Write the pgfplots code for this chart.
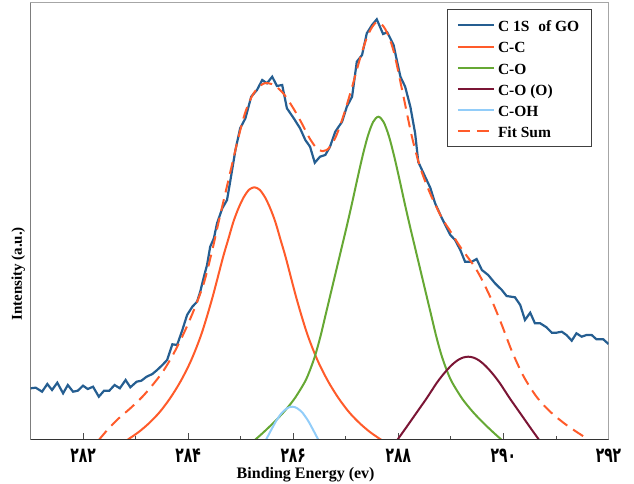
\documentclass[border=0pt]{standalone}
\usepackage{fontspec}
\setmainfont{Liberation Serif}
\newfontfamily\fafont[Script=Arabic, FakeStretch=0.66]{DejaVu Sans}
\usepackage{pgfplots}
\pgfplotsset{compat=1.18}
\definecolor{cdata}{HTML}{255E91}
\definecolor{ccc}{HTML}{FF5B2A}
\definecolor{cco}{HTML}{66A834}
\definecolor{ccoo}{HTML}{7B1535}
\definecolor{coh}{HTML}{92CDF9}
\definecolor{cfit}{HTML}{FF5B2A}
\begin{document}
\begin{tikzpicture}
\path[use as bounding box] (-30.5pt,-44pt) rectangle (603.5pt,440pt);
\begin{axis}[
 scale only axis, width=578pt, height=437pt,
 xmin=281, xmax=292, ymin=0, ymax=437,
 axis line style={draw=gray!70, line width=1pt},
 xtick={282,284,286,288,290,292},
 xticklabels={۲۸۲,۲۸۴,۲۸۶,۲۸۸,۲۹۰,۲۹۲},
 minor xtick={283,285,287,289,291},
 ytick=\empty,
 xtick pos=left, tick align=inside,
 major tick length=7pt, minor tick length=4pt,
 tick style={draw=black!70, line width=0.8pt},
 xticklabel style={font=\fafont\bfseries\fontsize{21}{21}\selectfont, inner sep=1pt, anchor=north, yshift=-8pt},
 xlabel={Binding Energy (ev)},
 xlabel style={at={(axis description cs:0.476,-0.080)}, anchor=center, font=\bfseries\fontsize{16}{18}\selectfont},
 ylabel={Intensity (a.u.)},
 ylabel style={at={(axis description cs:-0.021,0.38)}, anchor=center, font=\bfseries\fontsize{15}{18}\selectfont},
 legend cell align=left,
 legend style={at={(axis description cs:0.7211,0.9856)}, anchor=north west, draw=black!75, line width=1pt, font=\bfseries\fontsize{15.5}{18}\selectfont, row sep=0pt, inner xsep=9pt, inner ysep=5pt, nodes={inner sep=3pt, text height=14pt, text depth=1.2pt}, /tikz/every even column/.append style={column sep=5pt}},
 legend image code/.code={\draw[#1] (0pt,0pt) -- (36pt,0pt);},
]
\addplot[cdata, line width=2.2pt] table {
281.00 51.7
281.10 52.3
281.22 48.3
281.32 56
281.41 50
281.51 57.3
281.62 46.7
281.71 55
281.81 48.3
281.90 49.3
282.00 54.3
282.09 51
282.19 53.3
282.30 43.3
282.40 49.3
282.50 49.3
282.60 55
282.70 51.7
282.81 60
282.90 52.7
283.02 58.3
283.11 59.3
283.21 63.3
283.32 66
283.41 70
283.51 75
283.60 80
283.70 95.7
283.79 95
283.89 110
283.98 125
284.08 133.3
284.17 138.3
284.23 148.3
284.30 163.3
284.36 175
284.42 193.3
284.49 201.7
284.55 216.7
284.65 231.7
284.74 240
284.80 258.3
284.90 290
284.99 311.7
285.09 321.7
285.20 343.3
285.31 350
285.41 360
285.50 356.7
285.60 363.3
285.69 354
285.79 355
285.88 331.7
286.01 321.7
286.13 311.7
286.23 300
286.32 293.3
286.41 277.3
286.51 283.3
286.61 285
286.70 293.3
286.80 308.3
286.93 318.3
287.02 333.3
287.12 343.3
287.21 378.3
287.31 385
287.40 406.7
287.50 415
287.59 420.7
287.71 406
287.79 407.7
287.91 395
287.97 380
288.04 363.3
288.13 353.3
288.23 333
288.32 306.7
288.38 278
288.48 266.7
288.61 252
288.70 236.7
288.83 221.7
288.99 205
289.08 200
289.18 190
289.27 178.3
289.40 178.3
289.49 181
289.59 170
289.71 165
289.84 156.7
289.97 150
290.06 144
290.22 142.7
290.32 135
290.41 120
290.51 127.3
290.60 116.7
290.70 116.7
290.82 112.7
290.92 107.3
291.01 107.3
291.11 108.3
291.20 105
291.30 99.3
291.39 106.7
291.49 103.3
291.58 105
291.68 105
291.77 100.7
291.90 100.7
292.00 96
};
\addlegendentry{C 1S\hspace{0.32em} of GO}
\addplot[ccc, line width=2pt, smooth, tension=0.5] table {
282.84 0
283.06 8
283.26 17
283.46 28
283.66 42
283.86 59
284.06 80
284.26 107
284.46 142
284.66 182
284.76 200
284.86 218
284.96 232
285.06 243
285.16 250.3
285.26 252.7
285.36 250.3
285.46 243
285.56 232
285.66 218
285.76 200
285.86 182
286.06 142
286.26 107
286.46 80
286.66 59
286.86 42
287.06 28
287.26 17
287.46 8
287.68 0
};
\addlegendentry{C-C}
\addplot[cco, line width=2pt, smooth, tension=0.5] table {
285.27 0
285.42 7
285.62 17
285.82 28
286.02 41
286.22 58
286.32 70
286.42 85
286.52 104
286.62 126
286.72 148
286.82 170
286.92 192
287.02 214
287.12 237
287.22 261
287.32 284
287.42 304
287.52 318
287.62 323.3
287.72 318
287.82 304
287.92 284
288.02 261
288.12 237
288.22 214
288.32 192
288.42 170
288.52 148
288.62 126
288.72 104
288.82 85
288.92 70
289.02 58
289.22 41
289.42 28
289.62 17
289.82 7
289.97 0
};
\addlegendentry{C-O}
\addplot[ccoo, line width=2pt, smooth, tension=0.5] table {
287.98 0
288.13 11
288.23 18.5
288.33 26
288.43 33.5
288.53 41
288.63 49
288.73 57
288.83 64
288.93 70.2
289.03 75.6
289.13 79.8
289.23 82.4
289.33 83.3
289.43 82.4
289.53 79.8
289.63 75.6
289.73 70.2
289.83 64
289.93 57
290.03 49
290.13 41
290.23 33.5
290.33 26
290.43 18.5
290.53 11
290.68 0
};
\addlegendentry{C-O (O)}
\addplot[coh, line width=2pt, smooth, tension=0.5] table {
285.48 0
285.58 10
285.68 19.5
285.78 27
285.83 29.6
285.88 31.6
285.93 32.9
285.98 33.3
286.03 32.9
286.08 31.6
286.13 29.6
286.18 27
286.28 19.5
286.38 10
286.48 0
};
\addlegendentry{C-OH}
\addplot[cfit, line width=2pt, smooth, tension=0.5, dash pattern=on 12pt off 7pt] table {
282.30 0
282.49 11.7
282.68 21.7
282.90 31.7
283.13 43.3
283.35 56.7
283.54 70
283.73 87
283.92 107
284.11 130
284.30 157
284.46 190
284.58 218
284.70 245
284.82 272
284.95 301
285.09 328
285.25 347
285.44 356.5
285.63 355
285.82 346
286.01 331
286.17 316
286.32 301
286.48 290
286.64 290
286.80 302
286.96 325
287.12 353
287.28 383
287.43 406
287.59 418
287.75 411
287.91 389
288.10 343
288.26 303
288.42 272
288.61 246
288.83 222
289.00 208
289.18 193
289.49 170
289.75 143
289.97 115
290.16 89
290.38 64
290.63 43.3
290.89 28.3
291.20 15
291.58 1.7
};
\addlegendentry{Fit Sum}
\draw[black!80, line width=1.2pt] (rel axis cs:0,1) -- (rel axis cs:0,0) -- (rel axis cs:1,0);
\end{axis}
\end{tikzpicture}
\end{document}
